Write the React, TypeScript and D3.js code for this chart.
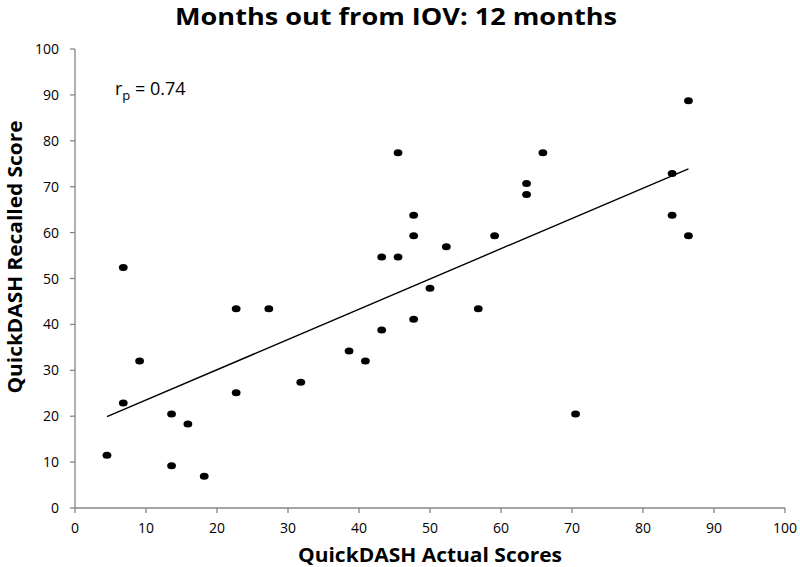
import React from "react";
import * as d3 from "d3";

const actualScores = [
  4.5, 6.8, 6.8, 9.1, 13.6, 13.6, 15.9, 18.2, 22.7, 22.7, 27.3, 31.8, 38.6, 40.9,
  86.4, 45.5, 65.9, 84.1, 63.6, 63.6, 47.7, 84.1, 47.7, 59.1, 86.4, 52.3, 43.2,
  45.5, 50.0, 56.8, 47.7, 43.2, 70.5,
];
const recalledScores = [
  11.5, 52.4, 22.9, 32.0, 20.5, 9.2, 18.3, 6.9, 43.4, 25.1, 43.4, 27.4, 34.2, 32.0,
  88.7, 77.4, 77.4, 72.9, 70.7, 68.3, 63.8, 63.8, 59.3, 59.3, 59.3, 56.9, 54.7,
  54.7, 47.9, 43.4, 41.1, 38.8, 20.5,
];
const trendX = [4.5, 86.4];
const trendY = [19.9, 73.9];
const xTicks = [0, 10, 20, 30, 40, 50, 60, 70, 80, 90, 100];
const yTicks = [0, 10, 20, 30, 40, 50, 60, 70, 80, 90, 100];
const titleText = "Months out from IOV: 12 months";
const xLabel = "QuickDASH Actual Scores";
const yLabel = "QuickDASH Recalled Score";
const correlationText = "0.74";

export default function App() {
  const W = 800;
  const H = 567;
  const x = d3.scaleLinear().domain([0, 100]).range([75, 785]);
  const y = d3.scaleLinear().domain([0, 100]).range([508, 49]);

  const pts = actualScores.map((a, i) => ({ a, r: recalledScores[i] }));
  const line = d3
    .line<number>()
    .x((d) => x(d))
    .y((_, i) => y(trendY[i]));

  const axisColor = "#868686";
  const font = "'Open Sans', sans-serif";

  return (
    <svg
      width={W}
      height={H}
      style={{ position: "absolute", left: 0, top: 0, background: "#fff" }}
    >
      <rect x={0} y={0} width={W} height={H} fill="#fff" />
      <text
        x={396}
        y={25}
        textAnchor="middle"
        fontFamily={font}
        fontWeight="bold"
        fontSize={23}
        textLength={442}
        lengthAdjust="spacingAndGlyphs"
        fill="#000"
      >
        {titleText}
      </text>

      {/* axes */}
      <line x1={x(0)} x2={x(0)} y1={y(0)} y2={y(100)} stroke={axisColor} strokeWidth={1.3} />
      <line x1={x(0)} x2={x(100)} y1={y(0)} y2={y(0)} stroke={axisColor} strokeWidth={1.3} />
      {yTicks.map((t) => (
        <g key={"y" + t}>
          <line x1={x(0) - 5} x2={x(0)} y1={y(t)} y2={y(t)} stroke={axisColor} strokeWidth={1.3} />
          <text
            x={59}
            y={y(t) + 5}
            textAnchor="end"
            fontFamily={font}
            fontSize={14}
            fill="#000"
          >
            {t}
          </text>
        </g>
      ))}
      {xTicks.map((t) => (
        <g key={"x" + t}>
          <line x1={x(t)} x2={x(t)} y1={y(0)} y2={y(0) + 5} stroke={axisColor} strokeWidth={1.3} />
          <text
            x={x(t)}
            y={533}
            textAnchor="middle"
            fontFamily={font}
            fontSize={14}
            fill="#000"
          >
            {t}
          </text>
        </g>
      ))}

      <text
        x={430}
        y={562}
        textAnchor="middle"
        fontFamily={font}
        fontWeight="bold"
        fontSize={20}
        textLength={264}
        lengthAdjust="spacingAndGlyphs"
        fill="#000"
      >
        {xLabel}
      </text>
      <text
        transform={`translate(22,257) rotate(-90)`}
        textAnchor="middle"
        fontFamily={font}
        fontWeight="bold"
        fontSize={20}
        textLength={273}
        lengthAdjust="spacingAndGlyphs"
        fill="#000"
      >
        {yLabel}
      </text>

      {/* trend line */}
      <path d={line(trendX) || ""} fill="none" stroke="#000" strokeWidth={1.4} />

      {/* points */}
      {pts.map((p, i) => (
        <ellipse key={i} cx={x(p.a)} cy={y(p.r)} rx={4.4} ry={3.5} fill="#000" />
      ))}

      <text x={115} y={95} fontFamily={font} fontSize={18} fill="#000">
        r
        <tspan fontSize={13} dy={5}>p</tspan>
        <tspan dy={-5}>{" = " + correlationText}</tspan>
      </text>
    </svg>
  );
}
